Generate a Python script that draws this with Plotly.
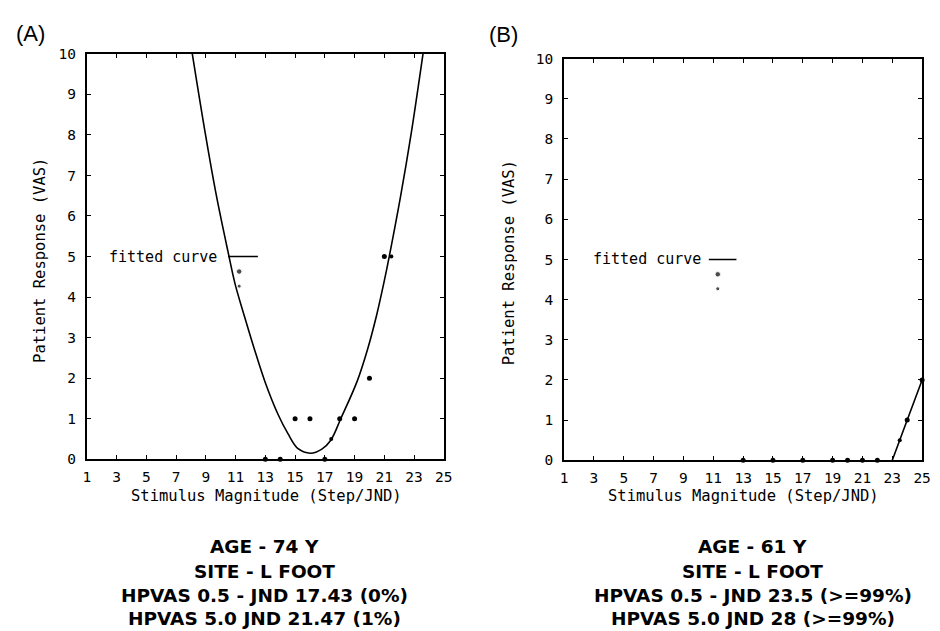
import plotly.graph_objects as go

# ---- Panel A: 74 y, left foot ----
a_data_x = [13, 14, 15, 16, 17, 18, 19, 20, 21]
a_data_y = [0, 0, 1, 1, 0, 1, 1, 2, 5]
a_hpvas_x = [17.43, 21.47]
a_hpvas_y = [0.5, 5.0]
a_curve_x = [8.09, 8.98, 9.71, 10.49, 10.97, 11.6, 12.26, 12.97, 13.85, 14.52, 15.2,
             16.03, 16.8, 17.4, 18.07, 19.17, 19.88, 20.46, 20.95, 21.33, 22.1, 22.79, 23.6]
a_curve_y = [10, 8, 6.5, 5.12, 4.32, 3.52, 2.72, 1.92, 1.11, 0.63, 0.26,
             0.15, 0.25, 0.47, 1.0, 1.92, 2.72, 3.52, 4.32, 5.0, 6.5, 8, 10]
a_caption = ["AGE - 74 Y", "SITE - L FOOT",
             "HPVAS 0.5 - JND 17.43 (0%)", "HPVAS 5.0 JND 21.47 (1%)"]

# ---- Panel B: 61 y, left foot ----
b_data_x = [13, 15, 17, 19, 20, 21, 22, 24, 25]
b_data_y = [0, 0, 0, 0, 0, 0, 0, 1, 2]
b_hpvas_x = [23.5]
b_hpvas_y = [0.5]
b_curve_x = [23, 24, 25]
b_curve_y = [0, 1, 2]
b_caption = ["AGE - 61 Y", "SITE - L FOOT",
             "HPVAS 0.5 - JND 23.5 (>=99%)", "HPVAS 5.0 JND 28 (>=99%)"]

# legend key drawn inside each panel (data coordinates)
a_key_line_x = [10.5, 12.5]
b_key_line_x = [10.7, 12.55]
key_line_y = [5, 5]
a_key_dot_x = [11.24, 11.24]
b_key_dot_x = [11.3, 11.3]
key_dot_y = [4.63, 4.27]
key_dot_size = [5.5, 4]

x_ticks = list(range(1, 26, 2))
y_ticks = list(range(0, 11))

W, H = 940, 631
MONO = "DejaVu Sans Mono"
CAP = "DejaVu Sans"
LETTER = "Liberation Sans, Arial"

fig = go.Figure()


def add_panel(xa, ya, cx, cy, dx, dy, hx, hy, klx, kdx):
    fig.add_trace(go.Scatter(x=cx, y=cy, mode="lines",
                             line=dict(color="black", width=1.6, shape="spline", smoothing=1.0),
                             xaxis=xa, yaxis=ya, showlegend=False, hoverinfo="skip"))
    fig.add_trace(go.Scatter(x=dx, y=dy, mode="markers", marker=dict(color="black", size=5),
                             xaxis=xa, yaxis=ya, showlegend=False, cliponaxis=False))
    fig.add_trace(go.Scatter(x=hx, y=hy, mode="markers", marker=dict(color="black", size=4),
                             xaxis=xa, yaxis=ya, showlegend=False, cliponaxis=False))
    fig.add_trace(go.Scatter(x=klx, y=key_line_y, mode="lines", line=dict(color="black", width=1.4),
                             xaxis=xa, yaxis=ya, showlegend=False, hoverinfo="skip"))
    fig.add_trace(go.Scatter(x=kdx, y=key_dot_y, mode="markers",
                             marker=dict(color="black", size=key_dot_size),
                             xaxis=xa, yaxis=ya, showlegend=False, hoverinfo="skip"))


add_panel("x", "y", a_curve_x, a_curve_y, a_data_x, a_data_y, a_hpvas_x, a_hpvas_y,
          a_key_line_x, a_key_dot_x)
add_panel("x2", "y2", b_curve_x, b_curve_y, b_data_x, b_data_y, b_hpvas_x, b_hpvas_y,
          b_key_line_x, b_key_dot_x)

axis_common = dict(showline=True, mirror="ticks", linecolor="black", linewidth=2,
                   ticks="inside", ticklen=4, tickwidth=1, tickcolor="black",
                   showgrid=False, zeroline=False,
                   tickfont=dict(family=MONO, size=14.5, color="black"))

xa = dict(axis_common, range=[1, 25], tickvals=x_ticks,
          ticktext=[str(v) for v in x_ticks], ticklabelstandoff=3)
ya = dict(axis_common, range=[0, 10], tickvals=y_ticks,
          ticktext=[str(v) for v in y_ticks], ticklabelstandoff=6)

fig.update_layout(
    width=W, height=H,
    margin=dict(l=0, r=0, t=0, b=0),
    paper_bgcolor="white", plot_bgcolor="white",
    xaxis=dict(xa, domain=[84 / W, 446 / W], anchor="y"),
    yaxis=dict(ya, domain=[1 - 463 / H, 1 - 47 / H], anchor="x"),
    xaxis2=dict(xa, domain=[568 / W, 931 / W], anchor="y2"),
    yaxis2=dict(ya, domain=[1 - 464 / H, 1 - 52 / H], anchor="x2"),
)

ann = []
# legend text next to key line
ann.append(dict(x=a_key_line_x[0] - 0.6, y=5, xref="x", yref="y", text="fitted curve",
                showarrow=False, xanchor="right", yanchor="middle",
                font=dict(family=MONO, size=15, color="black")))
ann.append(dict(x=b_key_line_x[0] - 0.4, y=5, xref="x2", yref="y2", text="fitted curve",
                showarrow=False, xanchor="right", yanchor="middle",
                font=dict(family=MONO, size=15, color="black")))

# axis titles
for cx, ty in [(266, 501), (750, 501)]:
    ann.append(dict(x=cx / W, y=1 - ty / H, xref="paper", yref="paper",
                    text="Stimulus Magnitude (Step/JND)", showarrow=False,
                    xanchor="center", yanchor="middle",
                    font=dict(family=MONO, size=15.5, color="black")))
for cx, cy in [(37, 259), (512, 261)]:
    ann.append(dict(x=cx / W, y=1 - cy / H, xref="paper", yref="paper",
                    text="Patient Response (VAS)", showarrow=False, textangle=-90,
                    xanchor="center", yanchor="middle",
                    font=dict(family=MONO, size=15.5, color="black")))

# panel letters
for lab, px, py in [("(A)", 27, 26), ("(B)", 507, 27)]:
    ann.append(dict(x=px / W, y=1 - py / H, xref="paper", yref="paper", text=lab,
                    showarrow=False, xanchor="center", yanchor="middle",
                    font=dict(family=LETTER, size=22, color="black")))

# captions under each panel, one annotation per line
line_y = [553, 578, 603, 626]
for lines, px in [(a_caption, 264), (b_caption, 759)]:
    for t, py in zip(lines, line_y):
        ann.append(dict(x=px / W, y=1 - py / H, xref="paper", yref="paper",
                        text=f"<b>{t}</b>", showarrow=False,
                        xanchor="center", yanchor="middle",
                        font=dict(family=CAP, size=18.5, color="black")))

fig.update_layout(annotations=ann)
fig.write_html("out.html")
